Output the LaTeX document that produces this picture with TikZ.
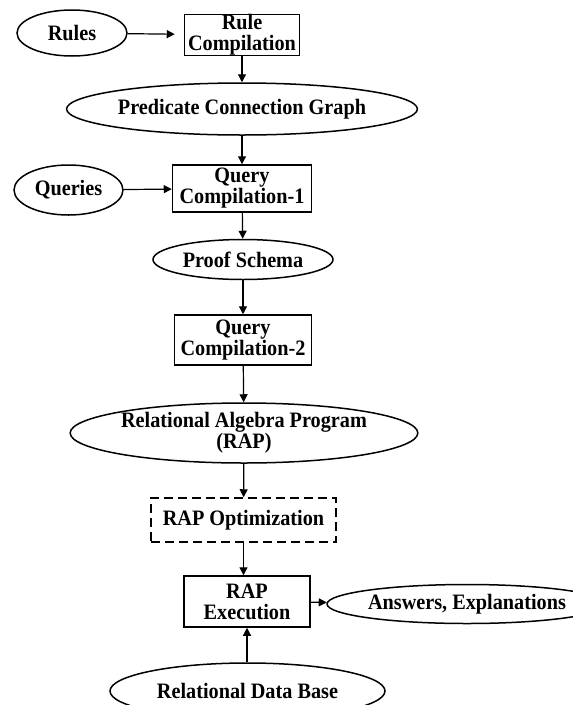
\documentclass[tikz,border=0pt]{standalone}
\usepackage{fontspec}
\setmainfont[FakeStretch=0.92]{Liberation Serif}
\usetikzlibrary{shapes.geometric,arrows.meta}
\begin{document}
\begin{tikzpicture}[x=1pt,y=-1pt,
  every node/.style={font=\fontsize{22}{21}\selectfont\bfseries, inner sep=0pt, line width=1.5pt, align=center},
  oval/.style={draw, ellipse},
  box/.style={draw, rectangle},
  dbox/.style={draw, rectangle, dash pattern=on 9pt off 5pt},
  arr/.style={line width=1.2pt, -{Triangle[length=8pt,width=8pt]}}]
\useasboundingbox (0,0) rectangle (573,705);
\clip (0,0) rectangle (573,705);
\node[oval, minimum width=110pt, minimum height=46pt] (rules) at (72,33) {Rules};
\node[box, minimum width=115pt, minimum height=40pt] (rulecomp) at (242,35) {Rule\\Compilation};
\node[oval, minimum width=279pt, minimum height=52pt] (pcg) at (242,109) {Predicate Connection Graph};
\node[box, minimum width=139pt, minimum height=47pt] (qc1) at (242,188.5) {Query\\Compilation-1};
\node[oval, minimum width=109pt, minimum height=50pt] (queries) at (68.5,190) {Queries};
\node[oval, minimum width=180pt, minimum height=40pt] (proof) at (243,259.5) {Proof Schema};
\node[box, minimum width=137pt, minimum height=50pt] (qc2) at (243,340) {Query\\Compilation-2};
\node[oval, minimum width=278pt, minimum height=60pt] (rap) at (244,433) {Relational Algebra Program\\(RAP)};
\node[dbox, minimum width=185pt, minimum height=44pt] (rapopt) at (243.5,520) {RAP Optimization};
\node[box, minimum width=126pt, minimum height=51pt] (rapexec) at (247,601.5) {RAP\\Execution};
\node[oval, minimum width=210pt, minimum height=39pt] (answers) at (467,604) {Answers, Explanations};
\node[oval, minimum width=275pt, minimum height=56pt] (rdb) at (247.5,691) {Relational Data Base};
\draw[arr, shorten >=9pt] (rules) -- (rulecomp);
\draw[arr] (queries) -- (qc1);
\draw[arr] (rulecomp.south) -- (rulecomp.south |- pcg.north);
\draw[arr] (pcg.south) -- (pcg.south |- qc1.north);
\draw[arr] (qc1) -- (proof);
\draw[arr] (proof) -- (qc2);
\draw[arr] (qc2) -- (rap);
\draw[arr] (rap) -- (rapopt);
\draw[arr] (rapopt.south) -- (rapopt.south |- rapexec.north);
\draw[arr] (rapexec) -- (answers);
\draw[arr] (rdb.north -| rapexec.south) -- (rapexec.south);
\end{tikzpicture}
\end{document}
